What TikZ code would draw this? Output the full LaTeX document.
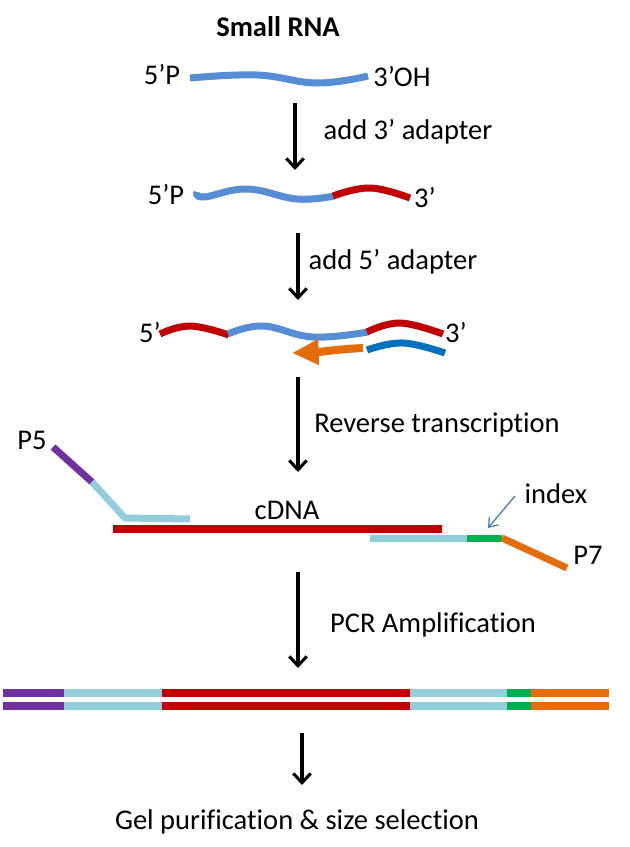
\documentclass[tikz,border=0pt]{standalone}
\usepackage{fontspec}
\setmainfont{Carlito}[Ligatures={NoCommon}]
\usetikzlibrary{arrows.meta}
\definecolor{rnablue}{HTML}{558ED5}
\definecolor{adred}{HTML}{C00000}
\definecolor{dkblue}{HTML}{0070C0}
\definecolor{rtorange}{HTML}{E46C0A}
\definecolor{ppurple}{HTML}{7030A0}
\definecolor{ltblue}{HTML}{92CDDC}
\definecolor{idxgreen}{HTML}{00B050}
\definecolor{idxarrow}{HTML}{4F81BD}
\begin{document}
\begin{tikzpicture}[x=0.75pt,y=-0.75pt,
  lbl/.style={font=\fontsize{21.4}{25}\selectfont, inner sep=0pt},
  strand/.style={line width=5.25pt},
  bar/.style={line width=6pt},
  flow/.style={line width=2.3pt, -{Straight Barb[length=7pt,width=13pt,line width=2.3pt]}}]
\useasboundingbox (0,0) rectangle (629,847);

% Stage 1
\node[lbl, font=\fontsize{21.4}{25}\selectfont\bfseries] (title) at (278,27) {Small RNA};
\node[lbl] (p1l) at (162,75) {5’P};
\node[lbl] (p1r) at (402,77) {3’OH};
\draw[strand, rnablue] plot[smooth, tension=0.7] coordinates {(190,78) (257,75) (317,83) (368,76)};

\coordinate (a1s) at (295,103); \coordinate (a1e) at (295,170);
\draw[flow] (a1s) -- (a1e);
\node[lbl] (t1) at (408,132) {add 3’ adapter};

% Stage 2
\node[lbl] (p2l) at (166,195) {5’P};
\node[lbl] (p2r) at (425,198) {3’};
\draw[strand, rnablue] plot[smooth, tension=0.7] coordinates {(197,192) (204,197) (247,189) (297,199) (334,196)};
\draw[strand, adred] plot[smooth, tension=0.7] coordinates {(333,196) (370,188) (410,198)};

\coordinate (a2s) at (298,233); \coordinate (a2e) at (298,300);
\draw[flow] (a2s) -- (a2e);
\node[lbl] (t2) at (393,262) {add 5’ adapter};

% Stage 3
\node[lbl] (p3l) at (150,333) {5’};
\node[lbl] (p3r) at (456,333) {3’};
\draw[strand, adred] plot[smooth, tension=0.7] coordinates {(160,334) (190,326) (229,335)};
\draw[strand, rnablue] plot[smooth, tension=0.7] coordinates {(228,334) (263,326) (313,337) (368,332)};
\draw[strand, adred] plot[smooth, tension=0.7] coordinates {(367,332) (400,323) (443,334)};
\draw[strand, dkblue] plot[smooth, tension=0.7] coordinates {(367,350) (403,343) (445,353)};
\coordinate (rts) at (363,348); \coordinate (rte) at (292,353);
\draw[line width=6pt, rtorange, -{Triangle[length=20pt,width=18pt]}] (rts) to[out=183,in=2] (rte);

\coordinate (a3s) at (298,377); \coordinate (a3e) at (298,472);
\draw[flow] (a3s) -- (a3e);
\node[lbl] (t3) at (437,425) {Reverse transcription};

% Stage 4
\node[lbl] (p5) at (32,440) {P5};
\coordinate (p5a) at (53,447); \coordinate (p5b) at (92,482);
\coordinate (p5c) at (125,518); \coordinate (p5d) at (190,519);
\draw[strand, ppurple] (p5a) -- (p5b);
\draw[strand, ltblue, line join=round] (p5b) -- (p5c) -- (p5d);
\node[lbl] (cdna) at (287,510) {cDNA};
\coordinate (c1) at (113,529); \coordinate (c2) at (442,529);
\draw[bar, adred] (c1) -- (c2);
\coordinate (r1) at (370,538); \coordinate (r2) at (467,538);
\coordinate (r3) at (502,538); \coordinate (r4) at (567,568);
\draw[strand, ltblue] (r1) -- (r2);
\draw[strand, idxgreen] (r2) -- (r3);
\draw[strand, rtorange] (r3) -- (r4);
\node[lbl] (p7) at (588,555) {P7};
\node[lbl] (idx) at (556,494) {index};
\coordinate (ia) at (515,496); \coordinate (ib) at (488,528);
\draw[idxarrow, line width=1pt, -{Straight Barb[length=6pt,width=9pt]}] (ia) -- (ib);

\coordinate (a4s) at (298,572); \coordinate (a4e) at (298,668);
\draw[flow] (a4s) -- (a4e);
\node[lbl] (t4) at (433,625) {PCR Amplification};

% Stage 5 : double-stranded library
\foreach \yy in {693,706} {
  \draw[bar, ppurple] (3,\yy) -- (64,\yy);
  \draw[bar, ltblue] (64,\yy) -- (162,\yy);
  \draw[bar, adred] (162,\yy) -- (410,\yy);
  \draw[bar, ltblue] (410,\yy) -- (507,\yy);
  \draw[bar, idxgreen] (507,\yy) -- (531,\yy);
  \draw[bar, rtorange] (531,\yy) -- (609,\yy);
}

\coordinate (a5s) at (302,733); \coordinate (a5e) at (302,785);
\draw[flow] (a5s) -- (a5e);
\node[lbl] (t5) at (297,822) {Gel purification \& size selection};
\end{tikzpicture}
\end{document}
